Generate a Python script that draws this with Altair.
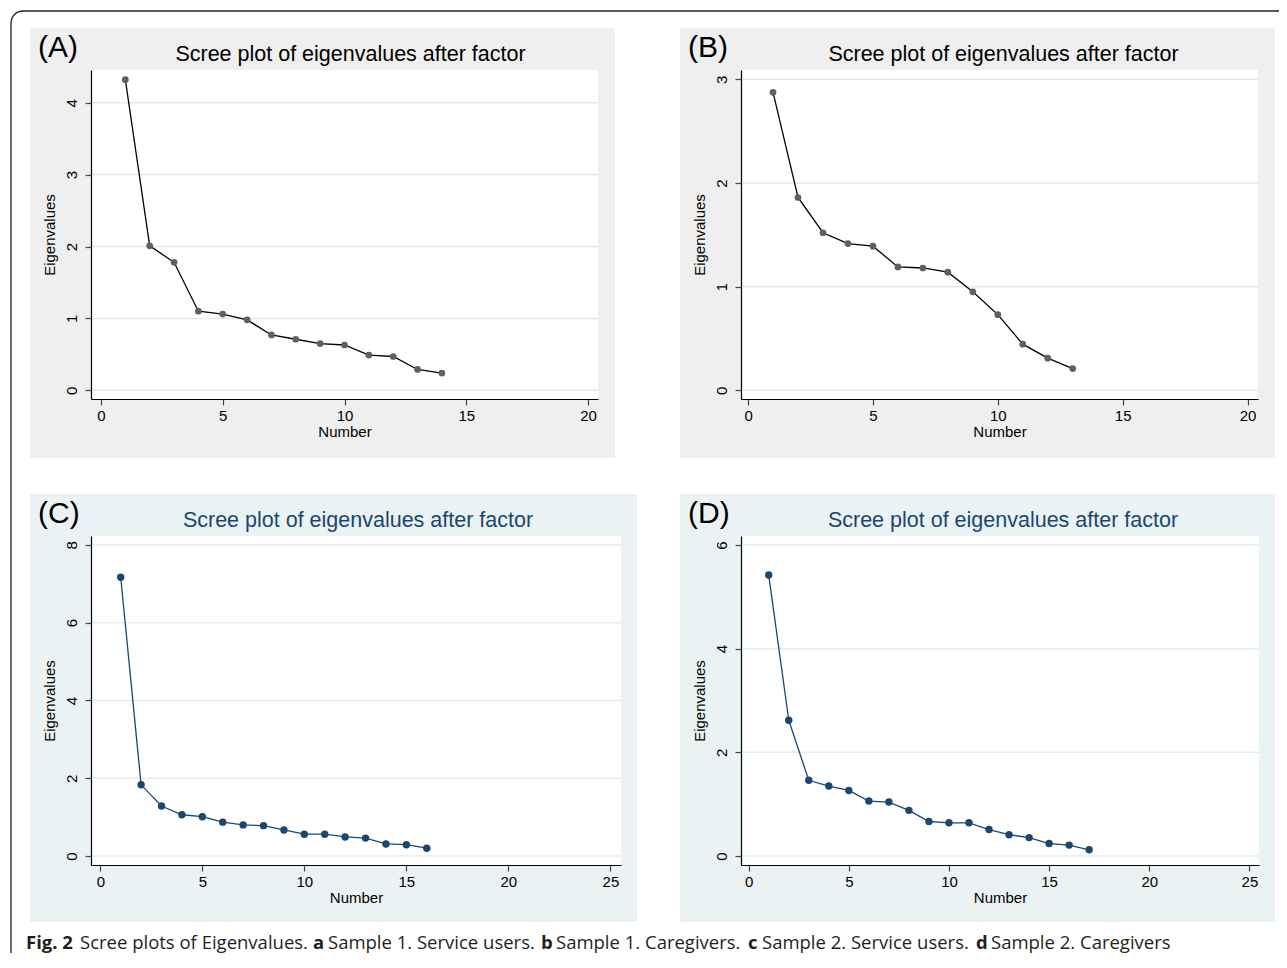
import altair as alt
import pandas as pd

# ---------------- data ----------------
eig_a = [4.32, 2.01, 1.78, 1.10, 1.06, 0.98, 0.77, 0.71, 0.65, 0.63, 0.49, 0.47, 0.29, 0.24]
eig_b = [2.875, 1.86, 1.52, 1.415, 1.39, 1.19, 1.18, 1.14, 0.95, 0.73, 0.445, 0.31, 0.21]
eig_c = [7.17, 1.83, 1.285, 1.06, 1.01, 0.87, 0.80, 0.78, 0.67, 0.56, 0.56, 0.49, 0.46, 0.31, 0.29, 0.20]
eig_d = [5.42, 2.62, 1.46, 1.35, 1.265, 1.06, 1.04, 0.88, 0.665, 0.64, 0.64, 0.51, 0.41, 0.355, 0.24, 0.21, 0.12]

panel_labels = ["(A)", "(B)", "(C)", "(D)"]
panel_title = "Scree plot of eigenvalues after factor"
x_title = "Number"
y_title = "Eigenvalues"
x_ticks_ab = [0, 5, 10, 15, 20]
x_ticks_cd = [0, 5, 10, 15, 20, 25]
y_ticks_a = [0, 1, 2, 3, 4]
y_ticks_b = [0, 1, 2, 3]
y_ticks_c = [0, 2, 4, 6, 8]
y_ticks_d = [0, 2, 4, 6]

caption_text = ["Fig. 2", "Scree plots of Eigenvalues.", "a", "Sample 1. Service users.",
                "b", "Sample 1. Caregivers.", "c", "Sample 2. Service users.",
                "d", "Sample 2. Caregivers"]
caption_bold = [True, False, True, False, True, False, True, False, True, False]

# ---------------- styling / layout ----------------
FONT = "Liberation Sans"
caption_x = [25, 79, 312, 327, 540, 555, 747, 761, 975, 990]  # page x of each caption piece

one = pd.DataFrame({"k": [0]})


def panel(vals, yticks, xticks, xdom, ydom, w, h, bg, bgbox, grid, dot, line,
          title_color, title_dx, label, label_x, dot_size, extra=()):
    df = pd.DataFrame({"Number": list(range(1, len(vals) + 1)), "Eigenvalue": vals})
    gdf = pd.DataFrame({"Eigenvalue": yticks})
    xax = alt.Axis(values=xticks, title=x_title, grid=False, format="d",
                   labelFont=FONT, titleFont=FONT, labelFontSize=15, titleFontSize=15,
                   titleFontWeight="normal", labelColor="black", titleColor="black",
                   domainColor="black", domainWidth=1.2, tickColor="#444", tickWidth=1.2,
                   tickSize=6, labelPadding=3, titlePadding=1, labelFlush=False,
                   labelOverlap=False, zindex=1)
    yax = alt.Axis(values=yticks, title=y_title, grid=False, format="d",
                   labelFont=FONT, titleFont=FONT, labelFontSize=15, titleFontSize=15,
                   titleFontWeight="normal", labelColor="black", titleColor="black",
                   domainColor="black", domainWidth=1.2, tickColor="#444", tickWidth=1.2,
                   tickSize=6, labelAngle=270, labelAlign="center", labelBaseline="bottom",
                   labelPadding=6, titlePadding=7, labelFlush=False, labelOverlap=False,
                   zindex=1)
    X = alt.X("Number:Q", scale=alt.Scale(domain=xdom, nice=False, zero=False), axis=xax)
    Y = alt.Y("Eigenvalue:Q", scale=alt.Scale(domain=ydom, nice=False, zero=False), axis=yax)

    bx1, bx2, by1, by2 = bgbox
    layers = list(extra)
    layers.append(alt.Chart(one).mark_rect(fill=bg).encode(
        x=alt.value(bx1), x2=alt.value(bx2), y=alt.value(by1), y2=alt.value(by2)))
    layers.append(alt.Chart(one).mark_rect(fill="white").encode(
        x=alt.value(0), x2=alt.value(w), y=alt.value(0), y2=alt.value(h)))
    layers.append(alt.Chart(gdf).mark_rule(color=grid, strokeWidth=1.5).encode(y=Y))
    layers.append(alt.Chart(df).mark_line(color=line, strokeWidth=1.3).encode(x=X, y=Y))
    layers.append(alt.Chart(df).mark_circle(color=dot, opacity=1, size=dot_size).encode(x=X, y=Y))
    layers.append(alt.Chart(one).mark_text(text=panel_title, font=FONT, fontSize=21.5,
                                           color=title_color, align="center",
                                           baseline="alphabetic").encode(
        x=alt.value(w / 2 + title_dx), y=alt.value(-9.5)))
    layers.append(alt.Chart(one).mark_text(text=label, font=FONT, fontSize=30, color="black",
                                           align="left", baseline="alphabetic").encode(
        x=alt.value(label_x), y=alt.value(-13.5)))
    return alt.layer(*layers).properties(width=w, height=h)


GRAY_BG = "#efefef"
BLUE_BG = "#eaf2f3"
NAVY = "#1a476f"

# outer rounded frame (drawn with panel A, whose plot area starts at page (90, 69));
# its right and bottom sides run past the picture's edge, as in the original crop
frame = alt.Chart(one).mark_rect(fillOpacity=0, stroke="#231f20", strokeWidth=1.3,
                                 cornerRadius=12).encode(
    x=alt.value(-80), x2=alt.value(1202), y=alt.value(-59), y2=alt.value(902))

# second column starts at page x 740 (plot areas), rows at page y 69 and 535
pa = panel(eig_a, y_ticks_a, x_ticks_ab, [-0.41, 20.41], [-0.121, 4.455], 507, 329,
           GRAY_BG, (-61, 524, -42, 388), "#e6e6e6", "#606060", "black", "black", 6,
           panel_labels[0], -53, 45, extra=[frame])
pb = panel(eig_b, y_ticks_b, x_ticks_ab, [-0.283, 20.42], [-0.084, 3.09], 517, 329,
           GRAY_BG, (-61, 534, -42, 388), "#e6e6e6", "#606060", "black", "black", 4,
           panel_labels[1], -53, 45)

# caption drawn with panel C (plot area starts at page (90, 535))
caption_layers = []
for t, b, px in zip(caption_text, caption_bold, caption_x):
    caption_layers.append(alt.Chart(one).mark_text(
        text=t, font="Open Sans", fontSize=18.5, fontWeight="bold" if b else "normal",
        color="#231f20", align="left", baseline="alphabetic").encode(
        x=alt.value(px - 90), y=alt.value(413)))

pc = panel(eig_c, y_ticks_c, x_ticks_cd, [-0.456, 25.52], [-0.232, 8.23], 530, 329,
           BLUE_BG, (-61, 546, -42, 386), "#e4edef", NAVY, NAVY, NAVY, 2,
           panel_labels[2], -53, 55, extra=caption_layers)
pd_ = panel(eig_d, y_ticks_d, x_ticks_cd, [-0.384, 25.48], [-0.174, 6.174], 518, 329,
            BLUE_BG, (-61, 534, -42, 386), "#e4edef", NAVY, NAVY, NAVY, 3,
            panel_labels[3], -53, 55)

chart = alt.concat(pa, pb, pc, pd_, columns=2, align="each", bounds="flush",
                   spacing={"row": 137, "column": 120}).properties(
    padding={"left": 2, "top": 2, "right": -15, "bottom": -20},
    background="white",
).configure_view(strokeWidth=0)

chart.save("out.html", embed_options={"renderer": "svg", "actions": False})
